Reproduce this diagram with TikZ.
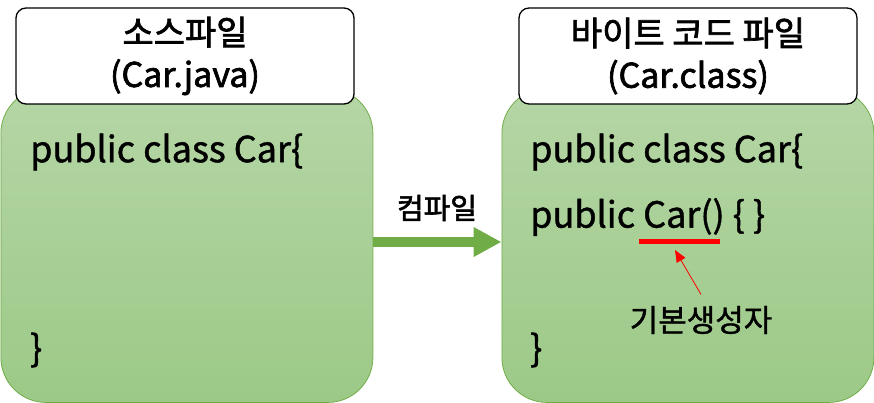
\documentclass[tikz,border=0pt]{standalone}
\usepackage{fontspec}
\setmainfont{Noto Sans CJK KR}
\newfontfamily\codefont{Noto Sans CJK KR}[FakeBold=1.2]
\newfontfamily\titlefont{Noto Sans CJK KR}[FakeBold=2]
\usetikzlibrary{positioning,arrows.meta}

\definecolor{boxtop}{RGB}{181,214,166}
\definecolor{boxbot}{RGB}{156,201,135}
\definecolor{boxline}{RGB}{112,173,71}

\begin{document}
\begin{tikzpicture}[x=1pt,y=-1pt,
	greenbox/.style={draw=boxline,line width=0.8pt,rounded corners=45pt,top color=boxtop,bottom color=boxbot,minimum width=372pt,minimum height=314pt,anchor=north west,inner sep=0pt},
	titlebox/.style={draw=black,line width=1.3pt,rounded corners=10pt,fill=white,minimum width=338pt,minimum height=96pt,align=center,inner sep=0pt,font=\titlefont\fontsize{34}{42}\selectfont},
	codetext/.style={anchor=west,inner sep=0pt,font=\codefont\fontsize{36}{40}\selectfont}]
	
	% 그림 크기
	\useasboundingbox (0,0) rectangle (874,403);
	
	% 초록색 상자 (왼쪽: 소스, 오른쪽: 바이트 코드)
	\node[greenbox] (src) at (0.5,88) {};
	\node[greenbox] (cls) at (501.5,88) {};
	
	% 제목 상자
	\node[titlebox] (srctitle) at (185,56) {소스파일\\(Car.java)};
	\node[titlebox] (clstitle) at (688,56) {바이트 코드 파일\\(Car.class)};
	
	% 왼쪽 코드
	\node[codetext] (srcline1) at (30,152) {public class Car\{};
	\node[codetext] (srcend) at (30,350) {\}};
	
	% 오른쪽 코드
	\node[codetext] (clsline1) at (530,152) {public class Car\{};
	\node[codetext] (clsline2) at (530,217) {public Car() \{ \}};
	\node[codetext] (clsend) at (530,350) {\}};
	
	% 컴파일 화살표
	\draw[-{Triangle[length=28pt,width=28pt]},line width=10pt,boxline] (src.east |- 0,242) -- (cls.west |- 0,242);
	\node[font=\titlefont\fontsize{29}{32}\selectfont] (compile) at (437,208) {컴파일};
	
	% 기본생성자 표시
	\coordinate (ulstart) at (639,241);
	\coordinate (ulend) at (720,241);
	\draw[red,line width=5pt] (ulstart) -- (ulend);
	\node[font=\codefont\fontsize{31}{34}\selectfont] (default) at (701,320) {기본생성자};
	\coordinate (tip) at (675,250);
	\draw[red,line width=0.8pt,-{Triangle[length=12pt,width=10pt]}] (default.north) ++(0,-8) coordinate (tail) -- (tip);
	
\end{tikzpicture}
\end{document}
